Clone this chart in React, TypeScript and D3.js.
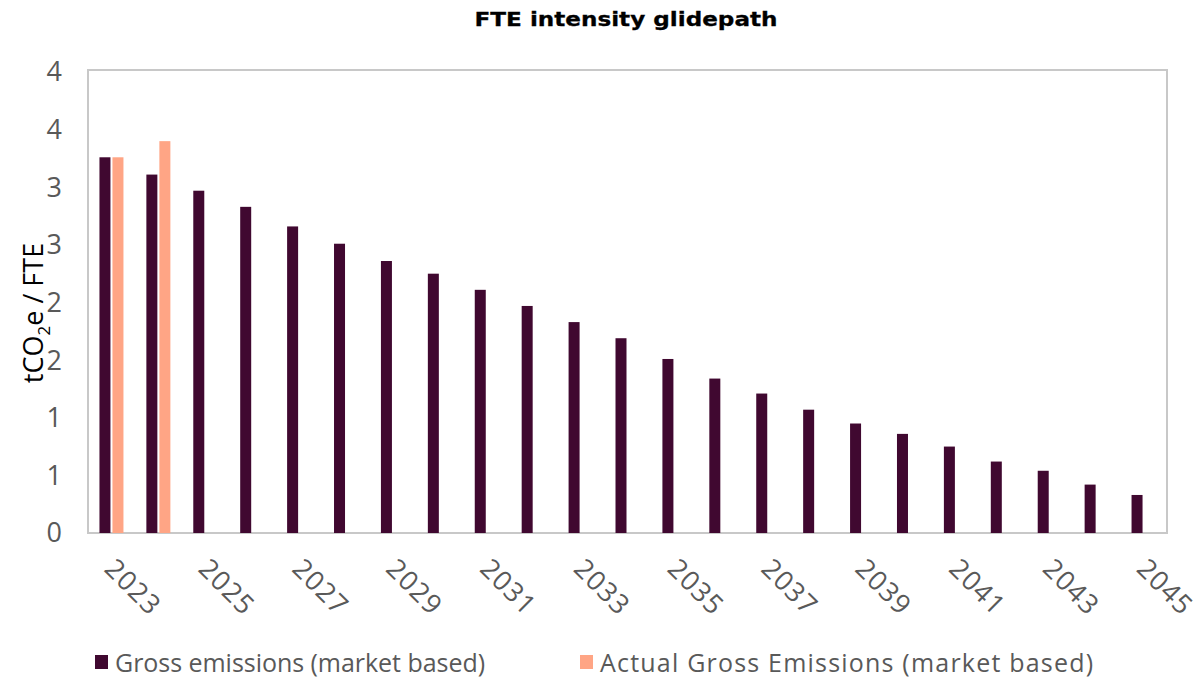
import React from "react";
import * as d3 from "d3";

const years = ["2023","2024","2025","2026","2027","2028","2029","2030","2031","2032","2033","2034","2035","2036","2037","2038","2039","2040","2041","2042","2043","2044","2045"];
const grossValues = [3.26,3.11,2.97,2.83,2.66,2.51,2.36,2.25,2.11,1.97,1.83,1.69,1.51,1.34,1.21,1.07,0.95,0.86,0.75,0.62,0.54,0.42,0.33];
const actualValues: (number | null)[] = [3.26,3.40,null,null,null,null,null,null,null,null,null,null,null,null,null,null,null,null,null,null,null,null,null];
const yTicks = [0,0.5,1,1.5,2,2.5,3,3.5,4];
const seriesNames = ["Gross emissions (market based)", "Actual Gross Emissions (market based)"];
const colors = ["#400830", "#FFA585"];

const W = 1201, H = 682;
const m = { left: 88, right: 1167, top: 72, bottom: 533 };
const FONT = "'Open Sans', sans-serif";

export default function App() {
  const x = d3.scaleBand<string>().domain(years).range([m.left, m.right]).paddingInner(0).paddingOuter(0);
  const y = d3.scaleLinear().domain([0, 4]).range([m.bottom, m.top]);
  const barW = 11;
  const gap = 2;
  const fmt = (v: number) => String(Math.floor(v + 0.5));
  return (
    <svg width={W} height={H} style={{ position: "absolute", left: 0, top: 0, background: "#fff" }}>
      <rect x={0} y={0} width={W} height={H} fill="#fff" />
      <text x={626} y={26} textAnchor="middle" fontFamily="'DejaVu Sans', sans-serif" fontWeight={700} fontSize={20} textLength={303} lengthAdjust="spacingAndGlyphs" fill="#000" stroke="#000" strokeWidth={0.3}>FTE intensity glidepath</text>
      <rect x={m.left} y={m.top - 2} width={m.right - m.left} height={m.bottom - m.top + 2} fill="none" stroke="#c8c8c8" strokeWidth={2} />
      {yTicks.map((t) => (
        <text key={t} x={62} y={y(t)} dy="0.35em" textAnchor="end" fontFamily={FONT} fontSize={27} fill="#595959">{fmt(t)}</text>
      ))}
      {years.map((yr, i) => {
        const cx = (x(yr) as number) + x.bandwidth() / 2;
        return (
          <g key={yr}>
            <rect x={cx - gap / 2 - barW} y={y(grossValues[i])} width={barW} height={y(0) - y(grossValues[i])} fill={colors[0]} />
            {actualValues[i] != null && (
              <rect x={cx + gap / 2} y={y(actualValues[i] as number)} width={barW} height={y(0) - y(actualValues[i] as number)} fill={colors[1]} />
            )}
          </g>
        );
      })}
      {years.map((yr, i) => {
        if (i % 2 !== 0) return null;
        const cx = (x(yr) as number) + x.bandwidth() / 2;
        return (
          <text key={yr} transform={`translate(${cx + 5},${557}) rotate(45)`} textAnchor="start" dy="0.7em" fontFamily={FONT} fontSize={27} letterSpacing={1} fill="#595959">{yr}</text>
        );
      })}
      <text transform={`translate(43,${313}) rotate(-90)`} textAnchor="middle" fontFamily={FONT} fontSize={27} fill="#000">
        tCO<tspan fontSize={17} dy={7}>2</tspan><tspan dy={-7}>e / FTE</tspan>
      </text>
      <rect x={95} y={655} width={13} height={14} fill={colors[0]} />
      <text x={115} y={672} fontFamily={FONT} fontSize={25} textLength={370} lengthAdjust="spacing" fill="#595959">{seriesNames[0]}</text>
      <rect x={580} y={655} width={13} height={14} fill={colors[1]} />
      <text x={600} y={672} fontFamily={FONT} fontSize={25} textLength={493} lengthAdjust="spacing" fill="#595959">{seriesNames[1]}</text>
    </svg>
  );
}
